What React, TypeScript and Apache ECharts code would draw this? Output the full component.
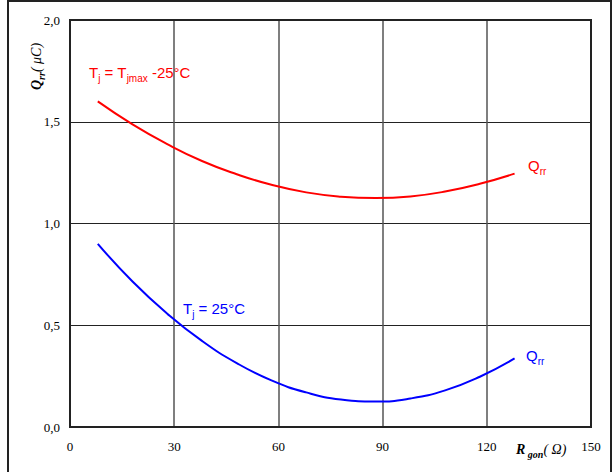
import React, { useEffect, useRef } from "react";
import * as echarts from "echarts";

const xTicks = [0, 30, 60, 90, 120, 150];
const yTicks = [0, 0.5, 1.0, 1.5, 2.0];

// Rgon (Ω) sample points
const rgon = [8, 18, 28, 38, 48, 58, 68, 78, 88, 98, 108, 118, 128];
const hotQ = [1.6, 1.487, 1.39, 1.307, 1.242, 1.19, 1.153, 1.132, 1.125, 1.133, 1.157, 1.195, 1.245];
const coldQ = [0.9, 0.715, 0.557, 0.423, 0.314, 0.229, 0.17, 0.135, 0.125, 0.14, 0.18, 0.247, 0.337];

const GRID = { left: 70, right: 21, top: 20, bottom: 45 };
const W = 612;
const H = 472;

export default function App() {
  const ref = useRef<HTMLDivElement>(null);
  useEffect(() => {
    if (!ref.current) return;
    const chart = echarts.init(ref.current, null, { renderer: "svg" });
    const pw = W - GRID.left - GRID.right;
    const ph = H - GRID.top - GRID.bottom;
    const serif = "Liberation Serif";
    const sans = "Liberation Sans";
    const subRich = (color: string) => ({
      n: { fontFamily: sans, fontSize: 15, fill: color, verticalAlign: "bottom", lineHeight: 17 },
      s: { fontFamily: sans, fontSize: 10, fill: color, verticalAlign: "bottom", lineHeight: 11, padding: [0, 0, -3, 0] },
    });
    const axisRich = {
      b: { fontFamily: serif, fontSize: 14, fontWeight: "bold", fontStyle: "italic", fill: "#000", verticalAlign: "bottom", lineHeight: 16 },
      s: { fontFamily: serif, fontSize: 10, fontWeight: "bold", fontStyle: "italic", fill: "#000", verticalAlign: "bottom", lineHeight: 11, padding: [0, 0, -3, 0] },
      i: { fontFamily: serif, fontSize: 14, fontStyle: "italic", fill: "#000", verticalAlign: "bottom", lineHeight: 16 },
    };
    chart.setOption({
      animation: false,
      grid: { ...GRID, containLabel: false },
      xAxis: {
        type: "value",
        min: 0,
        max: 150,
        interval: 30,
        axisLine: { show: true, onZero: false, lineStyle: { color: "#222", width: 2 } },
        axisTick: { show: false },
        splitLine: { show: true, lineStyle: { color: "#555", width: 1.5 } },
        axisLabel: { fontFamily: serif, fontSize: 13, color: "#000", margin: 13 },
      },
      yAxis: {
        type: "value",
        min: 0,
        max: 2,
        interval: 0.5,
        axisLine: { show: true, lineStyle: { color: "#222", width: 2 } },
        axisTick: { show: false },
        splitLine: { show: true, lineStyle: { color: "#222", width: 1.2 } },
        axisLabel: {
          fontFamily: serif,
          fontSize: 13,
          color: "#000",
          margin: 10,
          formatter: (v: number) => v.toFixed(1).replace(".", ","),
        },
      },
      series: [
        {
          type: "line",
          data: rgon.map((r, i) => [r, hotQ[i]]),
          smooth: true,
          showSymbol: false,
          lineStyle: { color: "#ff0000", width: 2 },
        },
        {
          type: "line",
          data: rgon.map((r, i) => [r, coldQ[i]]),
          smooth: true,
          showSymbol: false,
          lineStyle: { color: "#0000ff", width: 2 },
        },
      ],
      graphic: [
        {
          type: "rect",
          shape: { x: 8, y: 1, width: 603, height: 490 },
          style: { fill: "none", stroke: "#222", lineWidth: 2 },
          silent: true,
        },
        {
          type: "rect",
          shape: { x: GRID.left, y: GRID.top, width: pw, height: ph },
          style: { fill: "none", stroke: "#222", lineWidth: 2 },
          silent: true,
          z: 10,
        },
        {
          type: "text",
          x: 89,
          y: 63,
          style: { text: "{n|T}{s|j}{n| = T}{s|jmax}{n| -25°C}", rich: subRich("#ff0000") },
        },
        {
          type: "text",
          x: 183,
          y: 299,
          style: { text: "{n|T}{s|j}{n| = 25°C}", rich: subRich("#0000ff") },
        },
        {
          type: "text",
          x: 528,
          y: 156,
          style: { text: "{n|Q}{s|rr}", rich: subRich("#ff0000") },
        },
        {
          type: "text",
          x: 526,
          y: 346,
          style: { text: "{n|Q}{s|rr}", rich: subRich("#0000ff") },
        },
        {
          type: "text",
          x: 516,
          y: 440,
          style: { text: "{b|R}{s| gon}{i|( Ω)}", rich: axisRich },
        },
        {
          type: "text",
          x: 27,
          y: 90,
          rotation: Math.PI / 2,
          style: { text: "{b|Q}{s|rr}{i|( μC)}", rich: axisRich },
        },
      ],
    });
    return () => chart.dispose();
  }, []);
  return (
    <div
      ref={ref}
      style={{ position: "absolute", left: 0, top: 0, width: W, height: H, background: "#fff" }}
    />
  );
}
